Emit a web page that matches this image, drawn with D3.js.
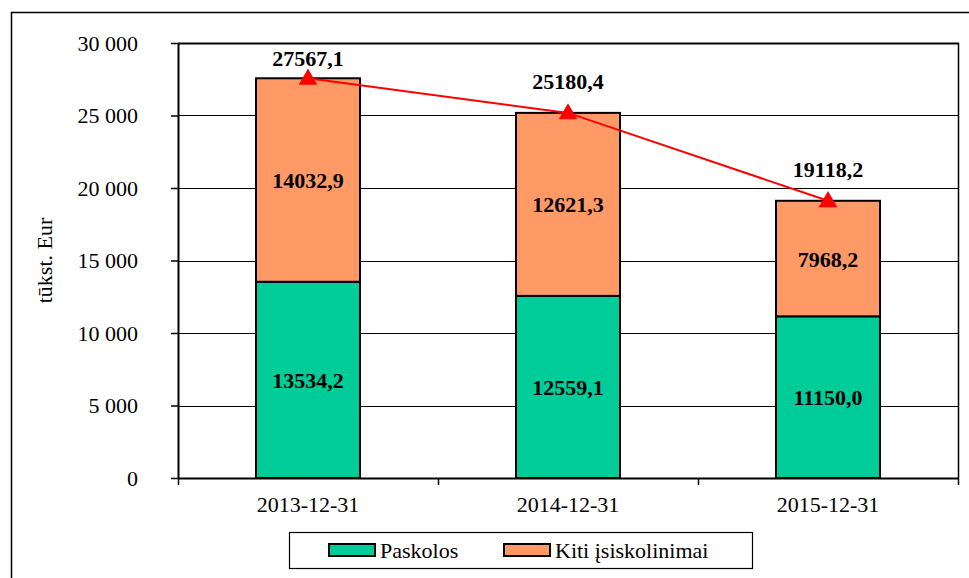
<!DOCTYPE html>
<html>
<head>
<meta charset="utf-8">
<script src="https://cdn.jsdelivr.net/npm/d3@7"></script>
<style>
  html, body { margin: 0; padding: 0; background: #fff; }
  svg { display: block; }
  text { font-family: "Liberation Serif", "Times New Roman", serif; }
</style>
</head>
<body>
<svg id="chart" width="969" height="578"></svg>
<script>
const categories = ["2013-12-31", "2014-12-31", "2015-12-31"];
const loans = [13534.2, 12559.1, 11150.0];
const otherDebts = [14032.9, 12621.3, 7968.2];
const totals = [27567.1, 25180.4, 19118.2];
const yTicks = [0, 5000, 10000, 15000, 20000, 25000, 30000];
const seriesNames = ["Paskolos", "Kiti įsiskolinimai"];
const yTitle = "tūkst. Eur";

const colors = { loans: "#00CC99", other: "#FF9966", line: "#FF0000" };
const fmt = v => v.toFixed(1).replace(".", ",");
const tickFmt = v => d3.format(",")(v).replace(/,/g, " ");

const svg = d3.select("#chart");
const W = 969, H = 578;
const plot = { left: 178, top: 43, right: 958, bottom: 478 };

// outer chart border (cropped at right and bottom)
svg.append("rect").attr("x", 11.5).attr("y", 12.5).attr("width", W).attr("height", H)
  .attr("fill", "none").attr("stroke", "#000").attr("stroke-width", 1.5);

const x = d3.scaleBand().domain(categories).range([plot.left, plot.right]).paddingInner(0.6).paddingOuter(0.3);
const y = d3.scaleLinear().domain([0, 30000]).range([plot.bottom, plot.top]);

// gridlines
svg.append("g").selectAll("line").data(yTicks.filter(d => d > 0)).join("line")
  .attr("x1", plot.left).attr("x2", plot.right)
  .attr("y1", d => Math.round(y(d)) + 0.5).attr("y2", d => Math.round(y(d)) + 0.5)
  .attr("stroke", "#000").attr("stroke-width", 1);

// right plot border
svg.append("line").attr("x1", plot.right + 0.5).attr("x2", plot.right + 0.5)
  .attr("y1", plot.top).attr("y2", plot.bottom).attr("stroke", "#000").attr("stroke-width", 1.5);

// bars
const stackData = categories.map((c, i) => ({ cat: c, loans: loans[i], other: otherDebts[i] }));
const stack = d3.stack().keys(["loans", "other"])(stackData);
const fillFor = { loans: colors.loans, other: colors.other };

const layers = svg.append("g").selectAll("g").data(stack).join("g")
  .attr("fill", d => fillFor[d.key]);
layers.selectAll("rect").data(d => d).join("rect")
  .attr("x", d => x(d.data.cat))
  .attr("width", x.bandwidth())
  .attr("y", d => y(d[1]))
  .attr("height", d => y(d[0]) - y(d[1]))
  .attr("stroke", "#000").attr("stroke-width", 2);

// segment labels
layers.selectAll("text").data(d => d).join("text")
  .attr("x", d => x(d.data.cat) + x.bandwidth() / 2)
  .attr("y", d => (y(d[0]) + y(d[1])) / 2 + 8)
  .attr("text-anchor", "middle")
  .attr("font-size", 22).attr("font-weight", "bold").attr("fill", "#000")
  .text((d, i, n) => fmt(d[1] - d[0]));

// Y axis
const yAxis = d3.axisLeft(y).tickValues(yTicks).tickFormat(tickFmt).tickSize(7).tickPadding(33);
const gy = svg.append("g").attr("transform", `translate(${plot.left},0)`).call(yAxis);
gy.select(".domain").attr("stroke", "#000").attr("stroke-width", 2).attr("d", `M0.5,${plot.bottom}V${plot.top}`);
gy.selectAll(".tick line").attr("stroke", "#000").attr("stroke-width", 1.5);
gy.selectAll(".tick text").attr("font-family", "Liberation Serif, serif").attr("font-size", 22).attr("fill", "#000");

// top border of plot
svg.append("line").attr("x1", plot.left).attr("x2", plot.right + 1)
  .attr("y1", plot.top + 0.5).attr("y2", plot.top + 0.5).attr("stroke", "#000").attr("stroke-width", 2);

// X axis
const gx = svg.append("g").attr("transform", `translate(0,${plot.bottom})`);
gx.append("line").attr("x1", plot.left).attr("x2", plot.right + 1).attr("y1", 0.5).attr("y2", 0.5)
  .attr("stroke", "#000").attr("stroke-width", 2);
const step = x.step();
const boundaries = d3.range(categories.length + 1).map(i => plot.left + i * (plot.right - plot.left) / categories.length);
gx.selectAll("line.tk").data(boundaries).join("line").attr("class", "tk")
  .attr("x1", d => d + 0.5).attr("x2", d => d + 0.5).attr("y1", 0).attr("y2", 7)
  .attr("stroke", "#000").attr("stroke-width", 1.5);
gx.selectAll("text").data(categories).join("text")
  .attr("x", d => x(d) + x.bandwidth() / 2).attr("y", 34)
  .attr("text-anchor", "middle").attr("font-size", 22).attr("fill", "#000")
  .text(d => d);

// Y title
svg.append("text").attr("transform", `translate(52,${(plot.top + plot.bottom) / 2}) rotate(-90)`)
  .attr("text-anchor", "middle").attr("font-size", 22).attr("fill", "#000").text(yTitle);

// total line
const cx = d => x(d) + x.bandwidth() / 2;
const line = d3.line().x((d, i) => cx(categories[i])).y(d => y(d));
svg.append("path").datum(totals).attr("d", line)
  .attr("fill", "none").attr("stroke", colors.line).attr("stroke-width", 2);
const tri = d3.symbol().type(d3.symbolTriangle).size(150);
svg.append("g").selectAll("path").data(totals).join("path")
  .attr("transform", (d, i) => `translate(${cx(categories[i])},${y(d) + 1})`)
  .attr("d", tri).attr("fill", colors.line);

// total labels (kept inside the plot area)
svg.append("g").selectAll("text").data(totals).join("text")
  .attr("x", (d, i) => cx(categories[i]))
  .attr("y", d => Math.max(y(d) - 24, plot.top + 23))
  .attr("text-anchor", "middle").attr("font-size", 22).attr("font-weight", "bold").attr("fill", "#000")
  .text(d => fmt(d));

// legend
const lg = svg.append("g");
lg.append("rect").attr("x", 289.5).attr("y", 532.5).attr("width", 463).attr("height", 36)
  .attr("fill", "#fff").attr("stroke", "#000").attr("stroke-width", 1.2);
const legendItems = [
  { name: seriesNames[0], color: colors.loans, sx: 329, tx: 380 },
  { name: seriesNames[1], color: colors.other, sx: 504, tx: 555 }
];
const li = lg.selectAll("g").data(legendItems).join("g");
li.append("rect").attr("x", d => d.sx).attr("y", 544).attr("width", 46).attr("height", 12)
  .attr("fill", d => d.color).attr("stroke", "#000").attr("stroke-width", 2);
li.append("text").attr("x", d => d.tx).attr("y", 558).attr("font-size", 22).attr("fill", "#000")
  .text(d => d.name);
</script>
</body>
</html>
